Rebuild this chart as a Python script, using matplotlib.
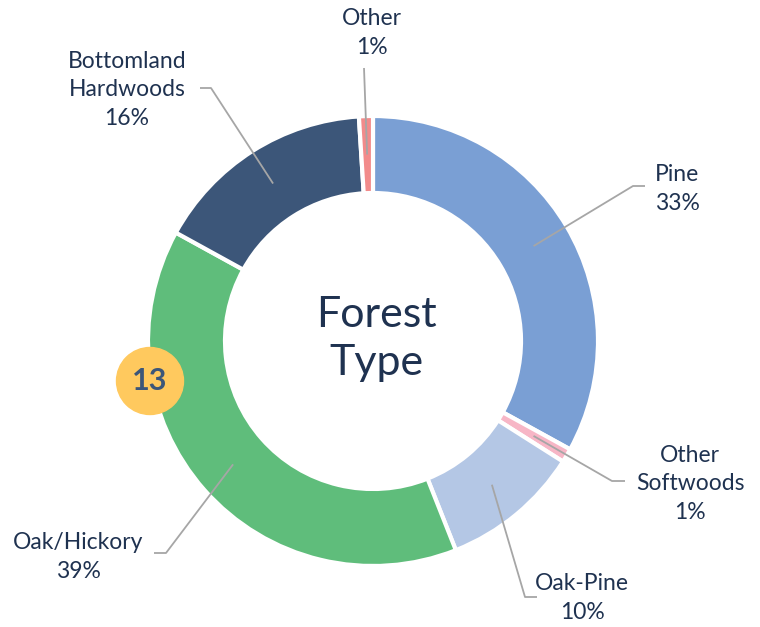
import numpy as np
import matplotlib.pyplot as plt

# forest type shares, clockwise from 12 o'clock
categories = ['Pine', 'Other\nSoftwoods', 'Oak-Pine', 'Oak/Hickory', 'Bottomland\nHardwoods', 'Other']
shares = [33, 1, 10, 39, 16, 1]
colors = ['#7A9FD4', '#F7B6C6', '#B4C7E5', '#5FBD7B', '#3C5679', '#F28B8B']

plt.rcParams['font.family'] = ['Lato', 'DejaVu Sans']
TXT = '#1F3250'
LINE = '#A6A6A6'

W, H = 760, 627
fig = plt.figure(figsize=(W / 100, H / 100), dpi=100)
ax = fig.add_axes([0, 0, 1, 1])

cx, cy = 373, H - 341
r_out, ring = 225, 77

wedges, _ = ax.pie(shares, colors=colors, startangle=90, counterclock=False,
                   center=(cx, cy), radius=r_out,
                   wedgeprops=dict(width=ring, edgecolor='white', linewidth=3))
ax.set_xlim(0, W)
ax.set_ylim(0, H)
ax.set_aspect('equal')
ax.axis('off')

# label layout: elbow point, line end, text centre (pixels from top-left)
layout = [
    ((633, 186), (645, 186), (677, 189)),
    ((612, 481), (625, 481), (690, 484)),
    ((525, 597), (537, 597), (582, 598)),
    ((166, 553), (154, 553), (78, 557)),
    ((211, 88), (200, 88), (127, 90)),
    ((364, 68), (364, 68), (372, 33)),
]

r_mid = r_out - ring / 2
for w, name, pct, (elbow, end, txt) in zip(wedges, categories, shares, layout):
    ang = np.deg2rad((w.theta1 + w.theta2) / 2)
    sx, sy = cx + r_mid * np.cos(ang), cy + r_mid * np.sin(ang)
    ax.plot([sx, elbow[0], end[0]], [sy, H - elbow[1], H - end[1]],
            color=LINE, lw=1.3, solid_capstyle='butt', zorder=3)
    ax.text(txt[0], H - txt[1], f'{name}\n{pct}%', ha='center', va='center',
            fontsize=16.5, color=TXT, linespacing=1.45, zorder=4)

# centre title
ax.text(cx + 3, cy + 2, 'Forest\nType', ha='center', va='center',
        fontsize=31, color=TXT, linespacing=1.3)

# figure number badge
badge = plt.Circle((150, H - 381), 33.5, color='#FFC95E', zorder=5)
ax.add_patch(badge)
ax.text(150, H - 381, '13', ha='center', va='center', fontsize=22,
        fontweight='bold', color='#3C5679', zorder=6)

fig.savefig('out.png', dpi=100)
